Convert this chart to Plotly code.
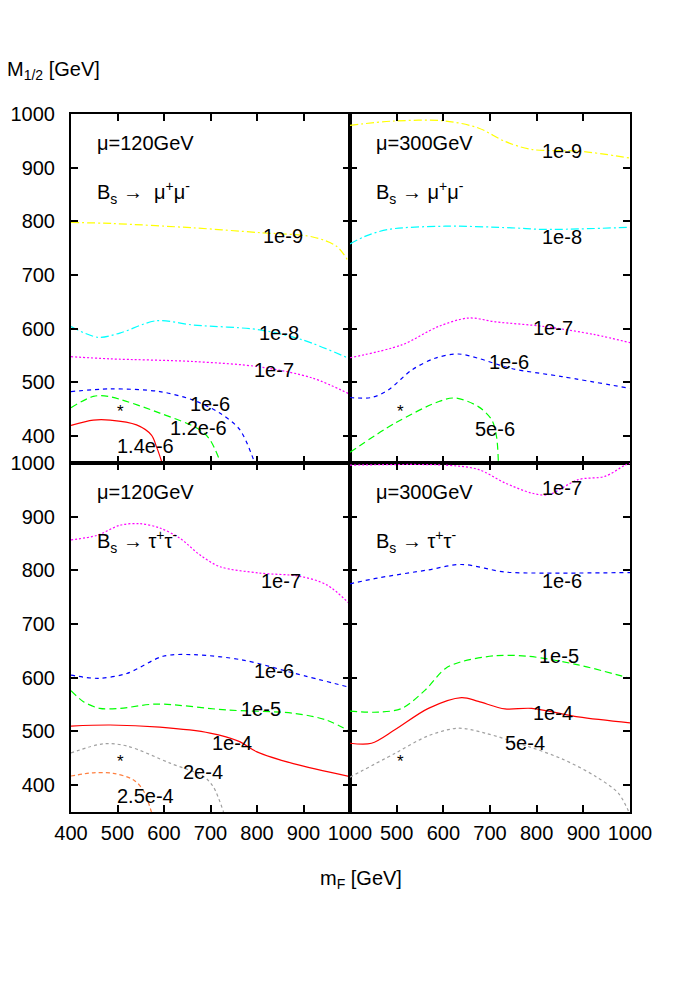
import plotly.graph_objects as go

# ---------------- data ----------------
# top-left: mu=120 GeV, Bs -> mu mu
tl_yellow_x = [400, 490, 662, 806, 920, 972, 1000]
tl_yellow_y = [798, 796, 788, 779, 771, 753, 720]
tl_cyan_x = [400, 459, 505, 584, 663, 806, 899, 1000]
tl_cyan_y = [604, 584, 592, 615, 607, 598, 579, 544]
tl_magenta_x = [400, 484, 663, 806, 920, 1000]
tl_magenta_y = [548, 544, 539, 529, 508, 478]
tl_blue_x = [400, 484, 591, 663, 720, 763, 795]
tl_blue_y = [483, 488, 483, 467, 443, 412, 350]
tl_green_x = [400, 448, 480, 591, 677, 699, 722]
tl_green_y = [453, 474, 474, 443, 412, 393, 350]
tl_red_x = [400, 448, 484, 541, 573, 584, 596]
tl_red_y = [420, 430, 430, 421, 402, 380, 350]

# top-right: mu=300 GeV, Bs -> mu mu
tr_yellow_x = [400, 496, 604, 675, 732, 789, 889, 1000]
tr_yellow_y = [979, 987, 987, 974, 949, 934, 931, 918]
tr_cyan_x = [400, 432, 482, 604, 746, 818, 1000]
tr_cyan_y = [758, 772, 785, 791, 788, 785, 789]
tr_magenta_x = [400, 511, 589, 654, 711, 818, 925, 1000]
tr_magenta_y = [546, 570, 604, 620, 613, 604, 589, 574]
tr_blue_x = [400, 446, 482, 532, 582, 632, 675, 746, 854, 1000]
tr_blue_y = [472, 472, 486, 523, 545, 553, 545, 526, 511, 489]
tr_green_x = [400, 496, 589, 625, 675, 704, 714, 718]
tr_green_y = [370, 424, 464, 471, 455, 430, 399, 350]

# bottom-left: mu=120 GeV, Bs -> tau tau
bl_magenta_x = [400, 455, 505, 548, 591, 634, 677, 720, 806, 892, 950, 1000]
bl_magenta_y = [857, 865, 884, 887, 879, 860, 829, 807, 795, 789, 773, 737]
bl_blue_x = [400, 459, 520, 598, 663, 770, 878, 1000]
bl_blue_y = [605, 599, 608, 640, 643, 633, 609, 582]
bl_green_x = [400, 426, 462, 505, 584, 734, 878, 950, 1000]
bl_green_y = [576, 556, 543, 543, 551, 540, 534, 521, 500]
bl_red_x = [400, 484, 591, 699, 760, 800, 878, 1000]
bl_red_y = [510, 512, 508, 497, 482, 462, 440, 416]
bl_gray_x = [400, 470, 520, 613, 685, 706, 728]
bl_gray_y = [460, 477, 473, 441, 416, 397, 350]
bl_orange_x = [400, 448, 491, 534, 555, 573]
bl_orange_y = [417, 423, 422, 410, 391, 350]

# bottom-right: mu=300 GeV, Bs -> tau tau
br_magenta_x = [400, 604, 675, 732, 789, 825, 889, 946, 989, 1000]
br_magenta_y = [996, 996, 988, 963, 944, 941, 969, 975, 996, 1000]
br_blue_x = [400, 461, 568, 639, 732, 818, 1000]
br_blue_y = [775, 786, 801, 811, 797, 795, 796]
br_green_x = [400, 461, 511, 561, 604, 639, 711, 782, 889, 1000]
br_green_y = [538, 536, 543, 577, 617, 630, 641, 640, 624, 599]
br_red_x = [400, 446, 496, 568, 639, 675, 732, 789, 889, 1000]
br_red_y = [478, 478, 503, 543, 563, 556, 542, 543, 527, 516]
br_gray_x = [400, 496, 568, 632, 689, 782, 854, 925, 975, 1000]
br_gray_y = [415, 459, 492, 506, 497, 472, 449, 417, 385, 345]

# contour labels: (text, x, y)
tl_labels = [("1e-9", 857, 772), ("1e-8", 850, 592), ("1e-7", 839, 523),
             ("1e-6", 702, 459), ("1.2e-6", 677, 415), ("1.4e-6", 563, 382)]
tr_labels = [("1e-9", 857, 932), ("1e-8", 857, 771), ("1e-7", 838, 602),
             ("1e-6", 743, 539), ("5e-6", 713, 413)]
bl_labels = [("1e-7", 853, 781), ("1e-6", 839, 613), ("1e-5", 810, 542),
             ("1e-4", 749, 478), ("2e-4", 687, 425), ("2.5e-4", 563, 380)]
br_labels = [("1e-7", 857, 954), ("1e-6", 857, 781), ("1e-5", 850, 640),
             ("1e-4", 838, 534), ("5e-4", 778, 478)]

star_x = [502, 504, 502, 503]
star_y = [445, 445, 444, 444]

panel_mu = ["μ=120GeV", "μ=300GeV", "μ=120GeV", "μ=300GeV"]
panel_proc = ["B<sub>s</sub> →  μ<sup>+</sup>μ<sup>-</sup>",
              "B<sub>s</sub> → μ<sup>+</sup>μ<sup>-</sup>",
              "B<sub>s</sub> → τ<sup>+</sup>τ<sup>-</sup>",
              "B<sub>s</sub> → τ<sup>+</sup>τ<sup>-</sup>"]

tick_vals_y = [400, 500, 600, 700, 800, 900, 1000]
tick_vals_x_left = [400, 500, 600, 700, 800, 900, 1000]
tick_vals_x_right = [500, 600, 700, 800, 900, 1000]

# ---------------- styles ----------------
FONT = "Liberation Sans, Arial, Helvetica, sans-serif"
FS = 20
SHIFT = -1
STY = {
    "yellow": dict(color="#FFFF00", dash="8px,3px,2px,3px"),
    "cyan": dict(color="#00FFFF", dash="8px,3px,2px,3px"),
    "magenta": dict(color="#FF00FF", dash="2px,2px"),
    "blue": dict(color="#0000FF", dash="4px,4px"),
    "green": dict(color="#00FF00", dash="7px,4px"),
    "red": dict(color="#FF0000", dash="solid"),
    "gray": dict(color="#A0A0A0", dash="3px,3px"),
    "orange": dict(color="#FF7F3F", dash="4px,3px"),
}

panels = [
    ("x", "y", [("yellow", tl_yellow_x, tl_yellow_y), ("cyan", tl_cyan_x, tl_cyan_y),
                ("magenta", tl_magenta_x, tl_magenta_y), ("blue", tl_blue_x, tl_blue_y),
                ("green", tl_green_x, tl_green_y), ("red", tl_red_x, tl_red_y)], tl_labels),
    ("x2", "y2", [("yellow", tr_yellow_x, tr_yellow_y), ("cyan", tr_cyan_x, tr_cyan_y),
                  ("magenta", tr_magenta_x, tr_magenta_y), ("blue", tr_blue_x, tr_blue_y),
                  ("green", tr_green_x, tr_green_y)], tr_labels),
    ("x3", "y3", [("magenta", bl_magenta_x, bl_magenta_y), ("blue", bl_blue_x, bl_blue_y),
                  ("green", bl_green_x, bl_green_y), ("red", bl_red_x, bl_red_y),
                  ("gray", bl_gray_x, bl_gray_y), ("orange", bl_orange_x, bl_orange_y)], bl_labels),
    ("x4", "y4", [("magenta", br_magenta_x, br_magenta_y), ("blue", br_blue_x, br_blue_y),
                  ("green", br_green_x, br_green_y), ("red", br_red_x, br_red_y),
                  ("gray", br_gray_x, br_gray_y)], br_labels),
]

# page geometry (browser body has an 8px margin)
OFF = 8
W, H = 692, 992
L, T = 71 - OFF, 114 - OFF
R = W - (630 - OFF)
B = H - (812.5 - OFF)
pw, ph = W - L - R, H - T - B

def px_x(page_x):
    return (page_x - OFF - L) / pw

def px_y(page_y):
    return (H - B - (page_y - OFF)) / ph

fig = go.Figure()
annotations = []
tfont = dict(family=FONT, size=FS, color="black")
for i, (xa, ya, curves, labels) in enumerate(panels):
    for name, xs, ys in curves:
        s = STY[name]
        fig.add_trace(go.Scatter(x=xs, y=ys, xaxis=xa, yaxis=ya, mode="lines",
                                 line=dict(color=s["color"], dash=s["dash"], width=1.2,
                                           shape="spline", smoothing=0.9),
                                 showlegend=False, hoverinfo="skip"))
    for txt, lx, ly in labels:
        annotations.append(dict(x=lx, y=ly, xref=xa, yref=ya, text=txt, showarrow=False,
                                xanchor="center", yanchor="middle", xshift=SHIFT, font=tfont))
    annotations.append(dict(x=star_x[i], y=star_y[i], xref=xa, yref=ya, text="*",
                            showarrow=False, xanchor="center", yanchor="middle", xshift=2,
                            font=dict(family=FONT, size=17, color="black")))
    annotations.append(dict(x=440, y=946, xref=xa, yref=ya, text=panel_mu[i], showarrow=False,
                            xanchor="left", yanchor="middle", xshift=5, font=tfont))
    annotations.append(dict(x=440, y=853, xref=xa, yref=ya, text=panel_proc[i], showarrow=False,
                            xanchor="left", yanchor="middle", xshift=5, font=tfont))

annotations.append(dict(x=px_x(53), y=px_y(70), xref="paper", yref="paper",
                        text="M<sub>1/2</sub> [GeV]", showarrow=False,
                        xanchor="center", yanchor="middle", font=tfont))
annotations.append(dict(x=px_x(361), y=px_y(880), xref="paper", yref="paper",
                        text="m<sub>F</sub> [GeV]", showarrow=False,
                        xanchor="center", yanchor="middle", font=tfont))

split_x = 279 / pw

def xaxis(domain, showlabels, vals, anchor):
    return dict(domain=domain, range=[400, 1000], anchor=anchor, showgrid=False, zeroline=False,
                showline=True, linecolor="black", linewidth=2, mirror="ticks",
                ticks="inside", ticklen=7, tickwidth=1.5, tickcolor="black",
                tickvals=vals, showticklabels=showlabels, ticklabelstandoff=2,
                automargin=False, tickfont=tfont)

def yaxis(domain, showlabels, anchor):
    return dict(domain=domain, range=[350, 1000], anchor=anchor, showgrid=False, zeroline=False,
                showline=True, linecolor="black", linewidth=2, mirror="ticks",
                ticks="inside", ticklen=7, tickwidth=1.5, tickcolor="black",
                tickvals=tick_vals_y, showticklabels=showlabels, ticklabelstandoff=10,
                automargin=False, tickfont=tfont)

fig.update_layout(
    width=W, height=H, margin=dict(l=L, r=R, t=T, b=B),
    paper_bgcolor="white", plot_bgcolor="white",
    xaxis=xaxis([0, split_x], False, tick_vals_x_left, "y"),
    yaxis=yaxis([0.5, 1], True, "x"),
    xaxis2=xaxis([split_x, 1], False, tick_vals_x_right, "y2"),
    yaxis2=yaxis([0.5, 1], False, "x2"),
    xaxis3=xaxis([0, split_x], True, tick_vals_x_left, "y3"),
    yaxis3=yaxis([0, 0.5], True, "x3"),
    xaxis4=xaxis([split_x, 1], True, tick_vals_x_right, "y4"),
    yaxis4=yaxis([0, 0.5], False, "x4"),
    annotations=annotations,
    showlegend=False,
)

fig.write_html("out.html")
